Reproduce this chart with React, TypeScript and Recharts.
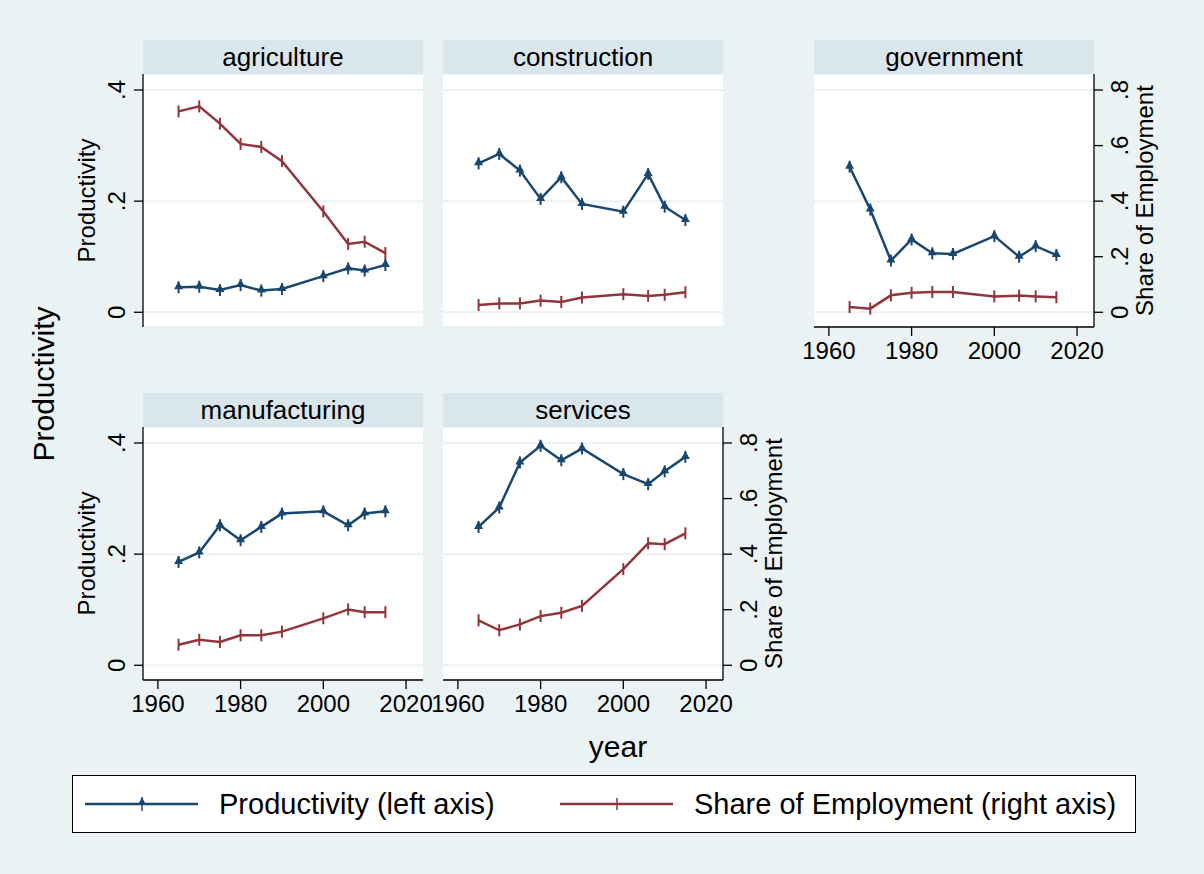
import { LineChart, Line, XAxis, YAxis, CartesianGrid } from 'recharts';

const years = [1965, 1970, 1975, 1980, 1985, 1990, 2000, 2006, 2010, 2015];

const agricultureProd = [0.045, 0.046, 0.040, 0.049, 0.039, 0.042, 0.065, 0.079, 0.075, 0.085];
const agricultureShare = [0.723, 0.741, 0.679, 0.606, 0.595, 0.544, 0.363, 0.246, 0.254, 0.213];
const constructionProd = [0.268, 0.285, 0.255, 0.204, 0.243, 0.195, 0.181, 0.249, 0.190, 0.166];
const constructionShare = [0.026, 0.032, 0.032, 0.042, 0.037, 0.053, 0.065, 0.059, 0.063, 0.072];
const governmentProd = [0.262, 0.185, 0.093, 0.131, 0.106, 0.105, 0.137, 0.100, 0.119, 0.103];
const governmentShare = [0.019, 0.013, 0.061, 0.070, 0.073, 0.073, 0.057, 0.060, 0.057, 0.054];
const manufacturingProd = [0.186, 0.203, 0.252, 0.225, 0.249, 0.273, 0.277, 0.252, 0.273, 0.277];
const manufacturingShare = [0.074, 0.092, 0.084, 0.108, 0.108, 0.121, 0.169, 0.201, 0.191, 0.191];
const servicesProd = [0.249, 0.284, 0.365, 0.395, 0.369, 0.390, 0.344, 0.326, 0.349, 0.375];
const servicesShare = [0.162, 0.126, 0.147, 0.177, 0.189, 0.214, 0.346, 0.439, 0.436, 0.475];

const xTicks = [1960, 1980, 2000, 2020];
const leftTicks = [0, 0.2, 0.4];
const rightTicks = [0, 0.2, 0.4, 0.6, 0.8];

const xDomain = [1956.4, 2024.1];
const leftDomain = [-0.0265, 0.4288];
const rightDomain = [-0.053, 0.8576];

const BLUE = '#1A476F';
const RED = '#90353B';
const BG = '#EAF2F3';
const HEAD = '#D9E6EB';
const FONT = '"Liberation Sans", Arial, Helvetica, sans-serif';

const PW = 280;
const PH = 253;

const fmt = (v: number) => (v === 0 ? '0' : String(v).replace(/^0/, ''));

const XTick = (props: any) => {
    const { x, y, payload } = props;
    return (
        <text x={x} y={y + 23} textAnchor="middle" fontSize={24} fill="#000" fontFamily={FONT}>
            {payload.value}
        </text>
    );
};

const LeftTick = (props: any) => {
    const { x, y, payload } = props;
    const bx = x - 9;
    return (
        <text x={bx} y={y} transform={`rotate(-90 ${bx} ${y})`} textAnchor="middle" fontSize={24} fill="#000" fontFamily={FONT}>
            {fmt(payload.value)}
        </text>
    );
};

const RightTick = (props: any) => {
    const { x, y, payload } = props;
    const bx = x + 25;
    return (
        <text x={bx} y={y} transform={`rotate(-90 ${bx} ${y})`} textAnchor="middle" fontSize={24} fill="#000" fontFamily={FONT}>
            {fmt(payload.value)}
        </text>
    );
};

const ProdDot = (props: any) => {
    const { cx, cy, index } = props;
    if (cx == null || cy == null) return <g key={index} />;
    return (
        <g key={index}>
            <path d={`M${cx},${cy - 6} L${cx + 4.5},${cy + 2} L${cx - 4.5},${cy + 2} Z`} fill={BLUE} />
            <line x1={cx} x2={cx} y1={cy - 6} y2={cy + 6} stroke={BLUE} strokeWidth={2} />
        </g>
    );
};

const ShareDot = (props: any) => {
    const { cx, cy, index } = props;
    if (cx == null || cy == null) return <g key={index} />;
    return <line key={index} x1={cx} x2={cx} y1={cy - 6} y2={cy + 6} stroke={RED} strokeWidth={2} />;
};

const LeftTitle = (props: any) => {
    const vb = props.viewBox || {};
    const bx = vb.x + 35;
    const cy = vb.y + vb.height / 2;
    return (
        <text x={bx} y={cy} transform={`rotate(-90 ${bx} ${cy})`} textAnchor="middle" fontSize={24} fill="#000" fontFamily={FONT}>
            Productivity
        </text>
    );
};

const RightTitle = (props: any) => {
    const vb = props.viewBox || {};
    const bx = vb.x + 59;
    const cy = vb.y + vb.height / 2;
    return (
        <text x={bx} y={cy} transform={`rotate(-90 ${bx} ${cy})`} textAnchor="middle" fontSize={24} fill="#000" fontFamily={FONT}>
            Share of Employment
        </text>
    );
};

interface PanelProps {
    title: string;
    left: number;
    top: number;
    prod: number[];
    share: number[];
    showLeft?: boolean;
    showRight?: boolean;
    showX?: boolean;
}

const Panel = ({ title, left, top, prod, share, showLeft = false, showRight = false, showX = false }: PanelProps) => {
    const data = years.map((year, i) => ({ year, p: prod[i], s: share[i] }));
    const L = showLeft ? 83 : 0;
    const R = showRight ? 66 : 0;
    const B = showX ? 45 : 0;
    // room for the year labels that hang past the plot edges
    const ml = showX && !showLeft ? 32 : 0;
    const mr = showX && !showRight ? 32 : 0;
    const axisStyle = { stroke: '#000', strokeWidth: 1.3 };

    return (
        <>
            <div
                style={{
                    position: 'absolute',
                    left,
                    top: top - 34,
                    width: PW,
                    height: 34,
                    background: HEAD,
                    textAlign: 'center',
                    lineHeight: '34px',
                    fontSize: 26,
                    color: '#000',
                }}
            >
                {title}
            </div>
            <div style={{ position: 'absolute', left: left - L - ml, top }}>
                <LineChart
                    width={PW + L + R + ml + mr}
                    height={PH + B}
                    data={data}
                    margin={{ top: 0, right: mr, bottom: 0, left: ml }}
                >
                    <CartesianGrid yAxisId="l" vertical={false} stroke={BG} strokeWidth={2} fill="#fff" fillOpacity={1} />
                    <XAxis
                        dataKey="year"
                        type="number"
                        domain={xDomain}
                        ticks={xTicks}
                        interval={0}
                        allowDataOverflow
                        hide={!showX}
                        height={B || 30}
                        tickSize={9}
                        tickMargin={0}
                        axisLine={axisStyle}
                        tickLine={axisStyle}
                        tick={<XTick />}
                    />
                    <YAxis
                        yAxisId="l"
                        type="number"
                        domain={leftDomain}
                        ticks={leftTicks}
                        interval={0}
                        allowDataOverflow
                        hide={!showLeft}
                        width={L || 60}
                        tickSize={9}
                        tickMargin={0}
                        axisLine={axisStyle}
                        tickLine={axisStyle}
                        tick={<LeftTick />}
                        label={{ content: <LeftTitle /> }}
                    />
                    <YAxis
                        yAxisId="r"
                        orientation="right"
                        type="number"
                        domain={rightDomain}
                        ticks={rightTicks}
                        interval={0}
                        allowDataOverflow
                        hide={!showRight}
                        width={R || 60}
                        tickSize={9}
                        tickMargin={0}
                        axisLine={axisStyle}
                        tickLine={axisStyle}
                        tick={<RightTick />}
                        label={{ content: <RightTitle /> }}
                    />
                    <Line
                        yAxisId="r"
                        type="linear"
                        dataKey="s"
                        stroke={RED}
                        strokeWidth={2.5}
                        dot={(p: any) => <ShareDot key={p.index} {...p} />}
                        activeDot={false}
                        isAnimationActive={false}
                    />
                    <Line
                        yAxisId="l"
                        type="linear"
                        dataKey="p"
                        stroke={BLUE}
                        strokeWidth={2.5}
                        dot={(p: any) => <ProdDot key={p.index} {...p} />}
                        activeDot={false}
                        isAnimationActive={false}
                    />
                </LineChart>
            </div>
        </>
    );
};

const LegendItem = ({ color, label, x }: { color: string; label: string; x: number }) => (
    <div style={{ position: 'absolute', left: x, top: 0, height: 56, display: 'flex', alignItems: 'center' }}>
        <svg width={114} height={20} style={{ display: 'block' }}>
            <line x1={0} x2={113} y1={10} y2={10} stroke={color} strokeWidth={2.5} />
            {color === BLUE ? (
                <>
                    <path d="M57,3 L60,9 L54,9 Z" fill={color} />
                    <line x1={57} x2={57} y1={3} y2={17} stroke={color} strokeWidth={1.5} />
                </>
            ) : (
                <line x1={57} x2={57} y1={4} y2={16} stroke={color} strokeWidth={1.5} />
            )}
        </svg>
        <span style={{ marginLeft: 20, fontSize: 29, color: '#000', whiteSpace: 'nowrap' }}>{label}</span>
    </div>
);

export default function App() {
    return (
        <div
            style={{
                position: 'absolute',
                left: 0,
                top: 0,
                width: 1204,
                height: 874,
                background: BG,
                fontFamily: FONT,
                overflow: 'hidden',
            }}
        >
            <Panel title="agriculture" left={143} top={74} prod={agricultureProd} share={agricultureShare} showLeft />
            <Panel title="construction" left={443} top={74} prod={constructionProd} share={constructionShare} />
            <Panel title="government" left={814} top={74} prod={governmentProd} share={governmentShare} showRight showX />
            <Panel title="manufacturing" left={143} top={427} prod={manufacturingProd} share={manufacturingShare} showLeft showX />
            <Panel title="services" left={443} top={427} prod={servicesProd} share={servicesShare} showRight showX />

            <div style={{ position: 'absolute', left: 44, top: 384, width: 0, height: 0 }}>
                <div
                    style={{
                        position: 'absolute',
                        left: 0,
                        top: 0,
                        transform: 'translate(-50%, -50%) rotate(-90deg)',
                        fontSize: 30,
                        whiteSpace: 'nowrap',
                        color: '#000',
                    }}
                >
                    Productivity
                </div>
            </div>

            <div style={{ position: 'absolute', left: 518, top: 730, width: 200, textAlign: 'center', fontSize: 30, color: '#000' }}>
                year
            </div>

            <div
                style={{
                    position: 'absolute',
                    left: 72,
                    top: 775,
                    width: 1062,
                    height: 56,
                    background: '#fff',
                    border: '1.5px solid #000',
                }}
            >
                <LegendItem color={BLUE} label="Productivity (left axis)" x={12} />
                <LegendItem color={RED} label="Share of Employment (right axis)" x={487} />
            </div>
        </div>
    );
}
